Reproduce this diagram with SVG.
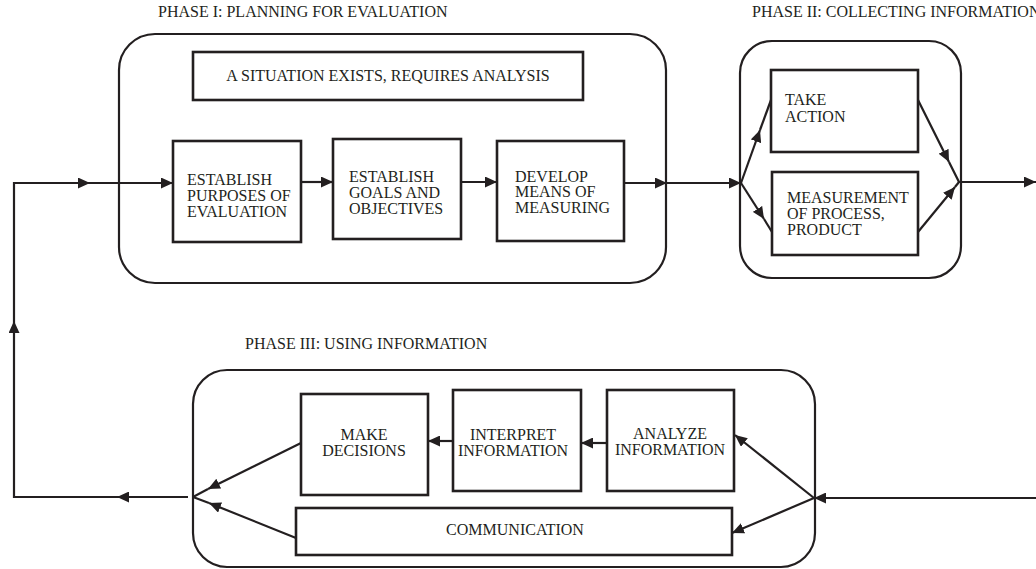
<svg xmlns="http://www.w3.org/2000/svg" width="1036" height="569" viewBox="0 0 1036 569">
<style>
.bg{fill:#ffffff}
.cont{fill:none;stroke:#231f20;stroke-width:2.2}
.box{fill:#ffffff;stroke:#231f20;stroke-width:2.6}
.t{font-family:"Liberation Serif","Times New Roman",serif;font-size:16px;fill:#231f20}
.c{text-anchor:middle}
.ln{fill:none;stroke:#231f20;stroke-width:2.2}
.la{fill:none;stroke:#231f20;stroke-width:2.2;marker-end:url(#arr)}
</style>
<defs>
<marker id="arr" markerUnits="userSpaceOnUse" markerWidth="13" markerHeight="11" refX="12" refY="5.5" orient="auto">
<path d="M0,0 L12,5.5 L0,11 z" fill="#231f20"/>
</marker>
</defs>
<rect class="bg" x="0" y="0" width="1036" height="569"/>

<g id="phase1">
<text class="t" x="158" y="17">PHASE I: PLANNING FOR EVALUATION</text>
<rect class="cont" x="119" y="34" width="547" height="249" rx="36" ry="36"/>
</g>
<g id="phase2">
<text class="t" x="752" y="17">PHASE II: COLLECTING INFORMATION</text>
<rect class="cont" x="740" y="41" width="221" height="237" rx="32" ry="32"/>
</g>
<g id="phase3">
<text class="t" x="245" y="349">PHASE III: USING INFORMATION</text>
<rect class="cont" x="193" y="370" width="622" height="197" rx="34" ry="34"/>
</g>

<g id="situation">
<rect class="box" x="193" y="52" width="390" height="48"/>
<text class="t c" x="388" y="81">A SITUATION EXISTS, REQUIRES ANALYSIS</text>
</g>
<g id="purposes">
<rect class="box" x="173" y="141" width="128" height="101"/>
<text class="t" x="187" y="185">ESTABLISH</text>
<text class="t" x="187" y="201">PURPOSES OF</text>
<text class="t" x="187" y="217">EVALUATION</text>
</g>
<g id="goals">
<rect class="box" x="333" y="139" width="128" height="100"/>
<text class="t" x="349" y="182">ESTABLISH</text>
<text class="t" x="349" y="198">GOALS AND</text>
<text class="t" x="349" y="214">OBJECTIVES</text>
</g>
<g id="develop">
<rect class="box" x="497" y="141" width="127" height="100"/>
<text class="t" x="515" y="182">DEVELOP</text>
<text class="t" x="515" y="197">MEANS OF</text>
<text class="t" x="515" y="213">MEASURING</text>
</g>
<g id="takeaction">
<rect class="box" x="771" y="70" width="147" height="82"/>
<text class="t" x="785" y="105">TAKE</text>
<text class="t" x="785" y="122">ACTION</text>
</g>
<g id="measurement">
<rect class="box" x="772" y="172" width="146" height="83"/>
<text class="t" x="787" y="203">MEASUREMENT</text>
<text class="t" x="787" y="219">OF PROCESS,</text>
<text class="t" x="787" y="235">PRODUCT</text>
</g>
<g id="decisions">
<rect class="box" x="301" y="394" width="127" height="101"/>
<text class="t c" x="364" y="440">MAKE</text>
<text class="t c" x="364" y="456">DECISIONS</text>
</g>
<g id="interpret">
<rect class="box" x="453" y="390" width="128" height="101"/>
<text class="t c" x="513" y="440">INTERPRET</text>
<text class="t c" x="513" y="456">INFORMATION</text>
</g>
<g id="analyze">
<rect class="box" x="607" y="390" width="127" height="101"/>
<text class="t c" x="670" y="439">ANALYZE</text>
<text class="t c" x="670" y="455">INFORMATION</text>
</g>
<g id="communication">
<rect class="box" x="296" y="508" width="436" height="47"/>
<text class="t c" x="515" y="535">COMMUNICATION</text>
</g>

<g id="connectors">
<!-- feedback loop -->
<path class="la" d="M188,497 L117,497"/>
<path class="la" d="M117,497 L14,497 L14,321"/>
<path class="la" d="M14,321 L14,183 L90,183"/>
<path class="la" d="M90,183 L173,183"/>
<!-- phase I row -->
<path class="la" d="M301,182 L333,182"/>
<path class="la" d="M461,182 L497,182"/>
<path class="la" d="M624,183 L667,183"/>
<path class="la" d="M667,183 L741,183"/>
<!-- phase II branches -->
<path class="la" d="M741,183 L760,130"/>
<path class="ln" d="M760,130 L771,100"/>
<path class="la" d="M741,183 L764,219"/>
<path class="ln" d="M764,219 L772,232"/>
<path class="la" d="M918,100 L949,162"/>
<path class="ln" d="M949,162 L959,182"/>
<path class="la" d="M918,232 L955,187"/>
<path class="ln" d="M955,187 L959,182"/>
<path class="la" d="M959,182 L1036,182"/>
<!-- phase III -->
<path class="la" d="M1036,498 L814,498"/>
<path class="la" d="M814,498 L735,435"/>
<path class="la" d="M814,498 L732,533"/>
<path class="la" d="M607,443 L581,443"/>
<path class="la" d="M453,441 L428,441"/>
<path class="la" d="M301,443 L208,489"/>
<path class="ln" d="M208,489 L193,497"/>
<path class="la" d="M296,538 L209,503"/>
<path class="ln" d="M209,503 L193,497"/>
</g>
</svg>
